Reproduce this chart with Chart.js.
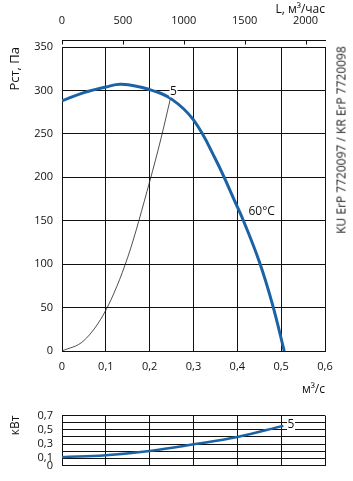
<!DOCTYPE html>
<html>
<head>
<meta charset="utf-8">
<script src="https://cdn.jsdelivr.net/npm/chart.js@4.4.1/dist/chart.umd.min.js"></script>
<style>
  body { margin: 0; background: #fff; }
  #wrap { position: relative; width: 353px; height: 481px; overflow: hidden; }
  #main { position: absolute; left: 0; top: 0; }
  #power { position: absolute; left: 0; top: 400px; }
  #model {
    position: absolute; left: 341px; top: 140px;
    transform: translate(-50%, -50%) rotate(-90deg);
    font: 12px "Open Sans", sans-serif; color: #222; white-space: nowrap;
  }
</style>
</head>
<body>
<div id="wrap">
  <canvas id="main" width="353" height="400"></canvas>
  <canvas id="power" width="353" height="81"></canvas>
  <div id="model">KU ErP 7720097 / KR ErP 7720098</div>
</div>
<script>
// fan curve, m3/s -> Pa
const fanFlow = [0, 0.05, 0.1, 0.136, 0.2, 0.25, 0.3, 0.35, 0.4, 0.414, 0.45, 0.48, 0.507];
const fanPressure = [288, 297.5, 304, 307, 301, 290, 266, 221, 166, 150, 103, 54, 0];

// network curve (thin line up to label 5)
const netFlow = [0, 0.05, 0.1, 0.15, 0.2, 0.225, 0.248];
const netPressure = [0, 12, 47, 108, 195, 243, 292];

// power, kW
const powerFlow = [0, 0.1, 0.2, 0.3, 0.4, 0.505];
const powerKw = [0.116, 0.144, 0.204, 0.296, 0.40, 0.556];

// ticks
const flowTicks = [0, 0.1, 0.2, 0.3, 0.4, 0.5, 0.6];
const pressureTicks = [0, 50, 100, 150, 200, 250, 300, 350];
const hourTicks = [0, 500, 1000, 1500, 2000];
const powerGrid = [0, 0.1, 0.2, 0.3, 0.4, 0.5, 0.6, 0.7];
const powerLabels = [0, 0.1, 0.3, 0.5, 0.7];

const BLUE = '#1b63a5';
const INK = '#111';
const FONT = '"Open Sans", sans-serif';

const comma = v => v === 0 ? '0' : v.toFixed(1).replace('.', ',');
const setTicks = arr => s => { s.ticks = arr.map(v => ({ value: v })); };
const pts = (xs, ys) => xs.map((x, i) => ({ x, y: ys[i] }));

const curveLabels = {
  id: 'curveLabels',
  afterDatasetsDraw(chart, args, opts) {
    const { ctx, scales: { x, y } } = chart;
    ctx.save();
    ctx.font = '12px ' + FONT;
    ctx.textAlign = 'center';
    ctx.textBaseline = 'middle';
    opts.items.forEach(it => {
      const px = x.getPixelForValue(it.x), py = y.getPixelForValue(it.y);
      if (it.clear) {
        ctx.fillStyle = '#fff';
        ctx.fillRect(px - 4, py - 6, 8, 12);
      }
      ctx.fillStyle = INK;
      ctx.fillText(it.text, px, py);
    });
    ctx.restore();
  }
};

// top m3/h axis: separate line with small ticks above the plot
const topAxisLine = {
  id: 'topAxisLine',
  afterDraw(chart) {
    const s = chart.scales.x2, ctx = chart.ctx;
    const y = chart.chartArea.top - 6.5;
    ctx.save();
    ctx.strokeStyle = INK;
    ctx.lineWidth = 1;
    ctx.beginPath();
    ctx.moveTo(s.left, y);
    ctx.lineTo(s.right + 1, y);
    s.ticks.forEach(t => {
      const px = Math.round(s.getPixelForValue(t.value)) + 0.5;
      ctx.moveTo(px, y);
      ctx.lineTo(px, y + 4);
    });
    ctx.stroke();
    ctx.restore();
  }
};

new Chart(document.getElementById('main'), {
  type: 'line',
  data: {
    datasets: [
      { data: pts(fanFlow, fanPressure), borderColor: BLUE, borderWidth: 3, pointRadius: 0,
        tension: 0.4, xAxisID: 'x', yAxisID: 'y' },
      { data: pts(netFlow, netPressure), borderColor: '#222', borderWidth: 0.8, pointRadius: 0,
        cubicInterpolationMode: 'monotone', xAxisID: 'x', yAxisID: 'y' }
    ]
  },
  options: {
    responsive: false,
    animation: false,
    layout: { padding: { left: 0, right: 28, top: 0, bottom: 0 } },
    plugins: {
      legend: { display: false },
      tooltip: { enabled: false },
      curveLabels: { items: [
        { text: '5', x: 0.2544, y: 299, clear: true },
        { text: '60°C', x: 0.4556, y: 160 }
      ] }
    },
    scales: {
      x: {
        type: 'linear', position: 'bottom', min: 0, max: 0.6,
        afterBuildTicks: setTicks(flowTicks),
        afterFit: s => { s.height = 49; },
        grid: { color: INK, lineWidth: 1, drawTicks: false },
        border: { color: INK, width: 1 },
        ticks: { color: INK, padding: 9, font: { family: FONT, size: 11 }, callback: comma },
        title: { display: true, text: 'м³/с', align: 'end', color: INK,
          font: { family: FONT, size: 12 }, padding: { top: 0, bottom: 3 } }
      },
      x2: {
        type: 'linear', position: 'top', min: 0, max: 2160,
        afterBuildTicks: setTicks(hourTicks),
        afterFit: s => { s.height = 47; },
        grid: { display: false },
        border: { display: false },
        ticks: { color: INK, padding: 12, font: { family: FONT, size: 11 }, callback: v => String(v) },
        title: { display: true, text: 'L, м³/час', align: 'end', color: INK,
          font: { family: FONT, size: 12 }, padding: { top: 2, bottom: 0 } }
      },
      y: {
        type: 'linear', position: 'left', min: 0, max: 350,
        afterBuildTicks: setTicks(pressureTicks),
        afterFit: s => { s.width = 62; },
        grid: { color: INK, lineWidth: 1, drawTicks: false },
        border: { color: INK, width: 1 },
        ticks: { color: INK, padding: 9, font: { family: FONT, size: 11 } },
        title: { display: true, text: 'Рст, Па', align: 'end', color: INK,
          font: { family: FONT, size: 13 }, padding: { top: 7, bottom: 0 } }
      }
    }
  },
  plugins: [curveLabels, topAxisLine]
});

new Chart(document.getElementById('power'), {
  type: 'line',
  data: {
    datasets: [
      { data: pts(powerFlow, powerKw), borderColor: BLUE, borderWidth: 2.5, pointRadius: 0,
        tension: 0.4 }
    ]
  },
  options: {
    responsive: false,
    animation: false,
    layout: { padding: { left: 0, right: 28, top: 10.7, bottom: 0 } },
    plugins: {
      legend: { display: false },
      tooltip: { enabled: false },
      curveLabels: { items: [ { text: '5', x: 0.5225, y: 0.568, clear: true } ] }
    },
    scales: {
      x: {
        type: 'linear', min: 0, max: 0.6,
        afterBuildTicks: setTicks(flowTicks),
        afterFit: s => { s.height = 12; },
        grid: { color: INK, lineWidth: 1, drawTicks: false },
        border: { color: INK, width: 1 },
        ticks: { display: false }
      },
      y: {
        type: 'linear', min: 0, max: 0.7,
        afterBuildTicks: setTicks(powerGrid),
        afterFit: s => { s.width = 62; },
        grid: { color: INK, lineWidth: 1, drawTicks: false },
        border: { color: INK, width: 1 },
        ticks: { color: INK, padding: 9, autoSkip: false, font: { family: FONT, size: 11 },
          callback: v => powerLabels.some(p => Math.abs(p - v) < 1e-6) ? comma(v) : '' },
        title: { display: true, text: 'кВт', align: 'end', color: INK,
          font: { family: FONT, size: 12 }, padding: { top: 8, bottom: 0 } }
      }
    }
  },
  plugins: [curveLabels]
});
</script>
</body>
</html>
